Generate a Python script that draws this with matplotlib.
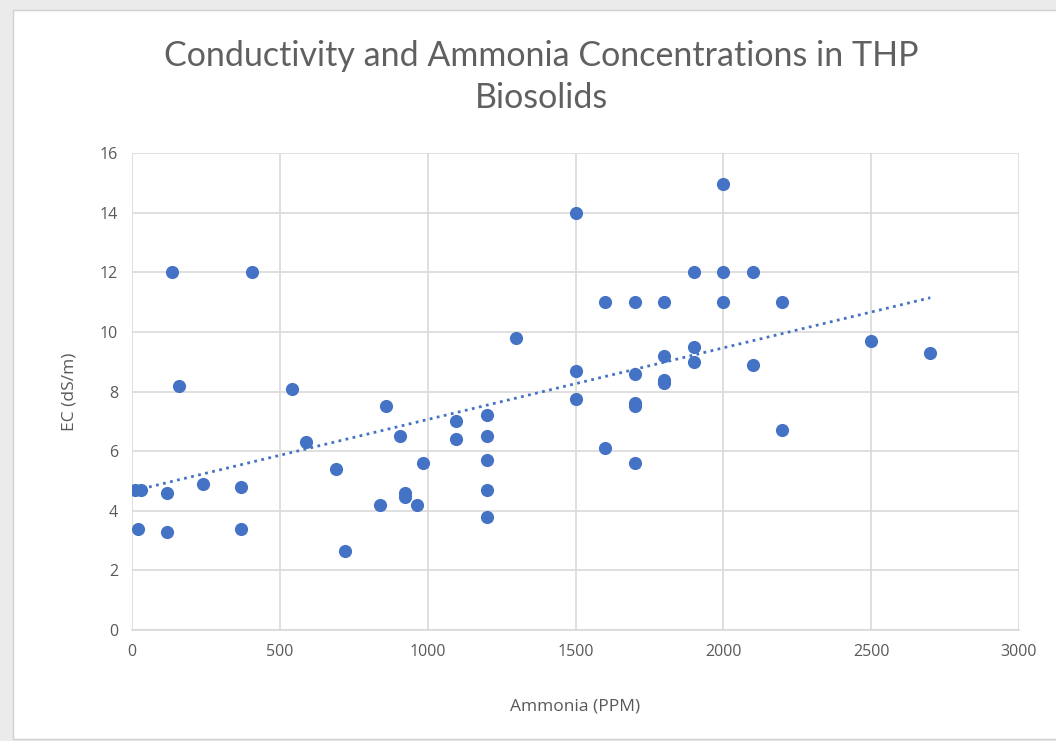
import numpy as np
import matplotlib
matplotlib.use("Agg")
import matplotlib.pyplot as plt
from matplotlib.patches import Rectangle

# Ammonia (PPM) and EC (dS/m)
ammonia = [10, 30, 20, 135, 160, 120, 120, 240, 370, 370, 405, 540, 590, 690, 720,
           840, 860, 905, 925, 925, 965, 985, 1095, 1095,
           1200, 1200, 1200, 1200, 1200, 1300, 1500, 1500, 1500,
           1600, 1600, 1700, 1700, 1700, 1700, 1700, 1800, 1800, 1800, 1800,
           1900, 1900, 1900, 2000, 2000, 2000, 2100, 2100, 2200, 2200, 2500, 2700]
ec = [4.7, 4.7, 3.4, 12, 8.2, 4.6, 3.3, 4.9, 4.8, 3.4, 12, 8.1, 6.3, 5.4, 2.65,
      4.2, 7.5, 6.5, 4.6, 4.45, 4.2, 5.6, 7.0, 6.4,
      7.2, 6.5, 5.7, 4.7, 3.8, 9.8, 14, 8.7, 7.75,
      11, 6.1, 11, 8.6, 7.6, 7.5, 5.6, 11, 9.2, 8.4, 8.3,
      12, 9.5, 9.0, 14.95, 12, 11, 12, 8.9, 11, 6.7, 9.7, 9.3]

x_ticks = [0, 500, 1000, 1500, 2000, 2500, 3000]
y_ticks = [0, 2, 4, 6, 8, 10, 12, 14, 16]

blue = '#4472C4'
grey_text = '#595959'
grid_col = '#d9d9d9'

fig = plt.figure(figsize=(10.56, 7.41), dpi=100)
fig.patch.set_facecolor('#ebebeb')
# white chart area inside the grey window frame
fig.add_artist(Rectangle((13 / 1056, 2 / 741), 1, 729 / 741, transform=fig.transFigure,
                         facecolor='white', edgecolor='#d0d0d0', linewidth=1, zorder=0))

ax = fig.add_axes([132 / 1056, 1 - 630 / 741, (1019 - 132) / 1056, (630 - 153) / 741])
ax.set_facecolor('white')

ax.scatter(ammonia, ec, s=90, color=blue, zorder=3, linewidths=0)

# linear trendline
coef = np.polyfit(ammonia, ec, 1)
xl = np.array([min(ammonia), max(ammonia)])
ax.plot(xl, np.polyval(coef, xl), linestyle=(0, (1, 1.6)), color=blue, linewidth=2.0, zorder=2)

ax.set_xlim(0, 3000)
ax.set_ylim(0, 16)
ax.set_xticks(x_ticks)
ax.set_yticks(y_ticks)
ax.grid(True, color=grid_col, linewidth=1.2)
ax.set_axisbelow(True)
for s in ['top', 'right', 'left']:
    ax.spines[s].set_visible(False)
ax.spines['bottom'].set_color(grid_col)
ax.spines['bottom'].set_linewidth(1.2)
ax.tick_params(length=0, labelsize=11.5, labelcolor=grey_text, pad=10)

fam = ['Open Sans', 'DejaVu Sans']
for lab in ax.get_xticklabels() + ax.get_yticklabels():
    lab.set_family(fam)

ax.set_xlabel('Ammonia (PPM)', fontsize=12.5, color=grey_text, family=fam, labelpad=28)
ax.set_ylabel('EC (dS/m)', fontsize=12.5, color=grey_text, family=fam, labelpad=16)

fig.text(541 / 1056, 1 - 77 / 741, 'Conductivity and Ammonia Concentrations in THP\nBiosolids',
         ha='center', va='center', fontsize=24.5, color='#606060', fontweight='normal',
         family=['Liberation Sans Narrow', 'Lato', 'DejaVu Sans'], linespacing=1.4)

fig.savefig('out.png', dpi=100, facecolor=fig.get_facecolor())
